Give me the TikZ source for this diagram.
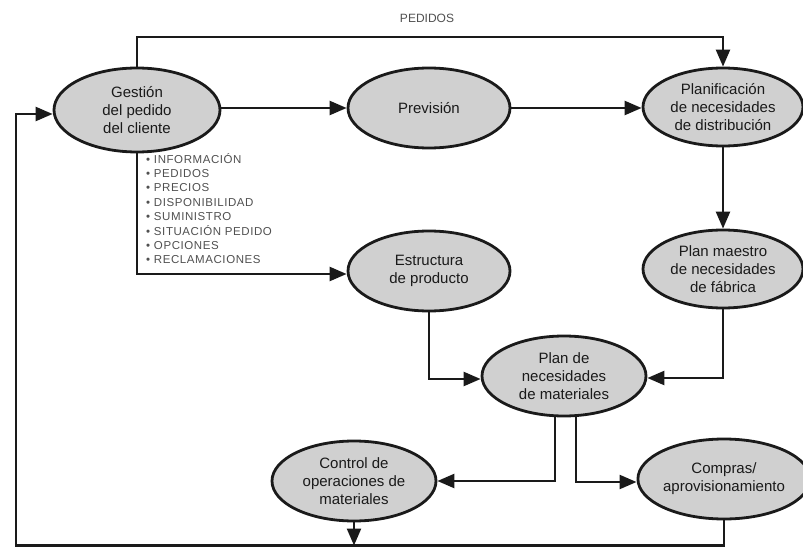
\documentclass[tikz,border=0pt]{standalone}
\usepackage{fontspec}
\setmainfont{Liberation Sans}
\newfontfamily\listfont[LetterSpace=5]{Liberation Sans}
\usetikzlibrary{shapes.geometric,arrows.meta}
\definecolor{procfill}{HTML}{D0D0D0}
\definecolor{ink}{HTML}{1A1A1A}
\definecolor{softink}{HTML}{505050}
\begin{document}
\begin{tikzpicture}[x=1pt,y=-1pt,
  proc/.style={ellipse, draw=ink, line width=2.8pt, fill=procfill,
    minimum width=162pt, minimum height=80pt, inner sep=0pt, align=center,
    text=ink, font=\fontsize{15}{18}\selectfont},
  flow/.style={draw=ink, line width=2.4pt,
    -{Triangle[length=17pt,width=14pt]}}]
\useasboundingbox (0,0) rectangle (803,548);
\fill[white] (0,0) rectangle (803,548);

% processes
\node[proc, minimum width=166pt, minimum height=84pt] (gest) at (137,110) {Gestión\\del pedido\\del cliente};
\node[proc] (prev) at (429,108) {Previsión};
\node[proc, minimum width=160pt, minimum height=78pt] (plan) at (723,107) {Planificación\\de necesidades\\de distribución};
\node[proc] (estr) at (429,271) {Estructura\\de producto};
\node[proc, minimum width=160pt, minimum height=78pt] (maes) at (723,269) {Plan maestro\\de necesidades\\de fábrica};
\node[proc, minimum width=164pt] (mat) at (564,376) {Plan de\\necesidades\\de materiales};
\node[proc, minimum width=164pt] (ctrl) at (354,481) {Control de\\operaciones de\\materiales};
\node[proc, minimum width=158pt] (comp) at (724,479) {Compras/\\aprovisionamiento};

% information exchanged with the customer
\node[anchor=north west, align=left, text=softink, inner sep=0pt,
  font=\listfont\fontsize{11.5}{14.4}\selectfont] (info) at (146,153)
  {• INFORMACIÓN\\• PEDIDOS\\• PRECIOS\\• DISPONIBILIDAD\\• SUMINISTRO\\• SITUACIÓN PEDIDO\\• OPCIONES\\• RECLAMACIONES};

% orders go straight to distribution planning
\coordinate (pedtop) at (723,37);
\draw[flow] (gest.north) |- (pedtop) -- (plan.north);
\node[text=softink, font=\fontsize{12}{14}\selectfont, inner sep=0pt] (pedlbl) at (427,18) {PEDIDOS};

% main flow
\draw[flow] (gest.east |- prev.west) -- (prev.west);
\draw[flow] (prev.east) -- (prev.east -| plan.west);
\draw[flow] (plan.south) -- (maes.north);
\draw[flow] (gest.south) |- ([yshift=-3pt]estr.west);
\draw[flow] (estr.south) |- ([yshift=-3pt]mat.west);
\draw[flow] (maes.south) |- ([yshift=-2pt]mat.east);
\draw[flow] ([xshift=-9pt]mat.south) |- (ctrl.east);
\draw[flow] ([xshift=12pt]mat.south) |- ([yshift=-3pt]comp.west);

% feedback loop to customer order management
\coordinate (fbr) at (724,545.5);
\coordinate (fbl) at (16,545.5);
\draw[flow] (comp.south) -- (fbr) -- (fbl) |- ([yshift=-4pt]gest.west);
\draw[flow] (ctrl.south) -- (ctrl.south |- fbl);
\end{tikzpicture}
\end{document}
